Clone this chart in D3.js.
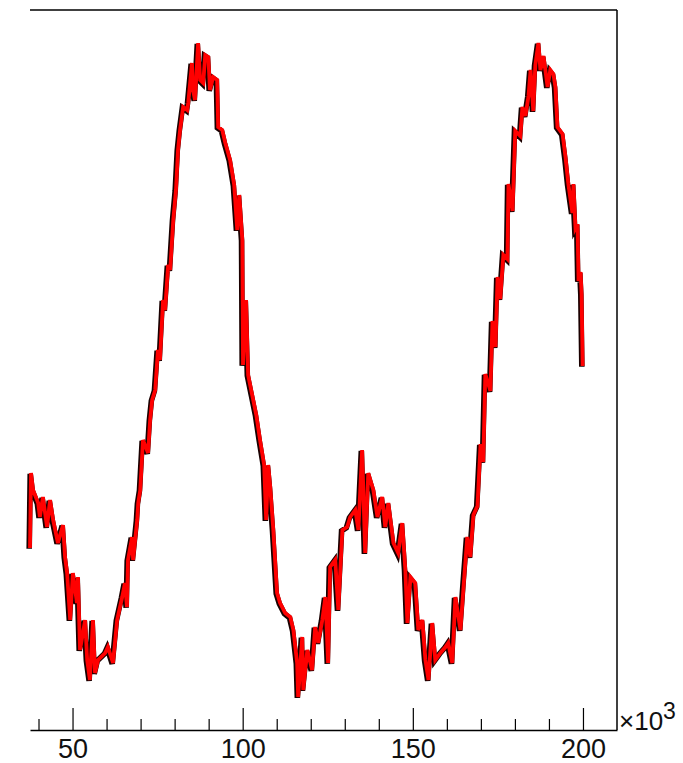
<!DOCTYPE html>
<html lang="en">
  <head>
    <meta charset="UTF-8" />
    <title>Signal</title>
    <style>
      body { margin: 0; background: #fff; }
      text { font-family: "Liberation Sans", Arial, sans-serif; }
    </style>
  </head>
  <body>
    <svg id="container" width="683" height="763">
      <g id="lines"></g>
      <g id="minorAxis"></g>
      <g id="xAxis"></g>
      <g id="frame"></g>
    </svg>
  </body>
  <script src="https://cdn.jsdelivr.net/npm/d3@7"></script>
  <script>
    // x in units of 10^3, y in arbitrary counts
    const xValues = [
      37.5, 37.8, 38.4, 39.9, 40.4, 41.3, 42.5, 43.4, 44.3, 45.7, 47.2, 47.8, 48.4, 49.3, 50.1, 51.3, 51.6, 52.2, 53.7, 54.3,
      55.1, 56.0, 56.6, 57.5, 59.6, 60.4, 61.9, 63.1, 64.6, 65.4, 66.0, 66.3, 67.5, 67.8, 69.0, 69.3, 69.9, 70.7, 72.2, 72.8,
      73.4, 74.3, 75.1, 75.7, 76.6, 77.2, 78.1, 78.7, 79.6, 80.4, 81.0, 81.6, 82.5, 83.7, 84.0, 85.1, 85.4, 86.0, 86.9, 87.5,
      88.4, 89.0, 89.9, 90.4, 91.3, 92.5, 92.8, 94.0, 94.9,
      96.3, 97.5, 98.4, 99.0, 99.9, 100.1, 101.0, 101.6, 102.8, 104.0, 105.1, 106.3, 106.9, 107.5, 108.1, 109.0, 110.1, 111.0,
      112.5, 114.0, 114.9, 116.0, 116.3, 117.5, 117.8, 119.0, 120.4, 121.3, 122.2, 123.4, 124.3, 125.1, 125.7, 127.2, 128.1,
      129.3, 130.7, 131.6, 133.1, 134.0, 135.1, 136.0, 136.9, 138.4, 139.6, 141.0, 141.9, 142.8, 144.3, 145.7, 146.9, 147.8,
      148.4, 149.3, 150.7, 151.6, 152.8, 153.7, 154.6, 155.7, 156.6, 158.1, 159.6, 160.4, 161.6, 162.5, 164.0, 164.9, 166.0,
      166.9,
      167.8, 169.0, 169.9, 170.7, 171.3, 172.8, 173.4, 174.3, 174.9, 175.7, 176.6, 177.8, 178.1, 179.3, 180.1, 181.6, 182.2,
      183.1, 184.0, 184.6, 185.4, 186.0, 186.9, 187.5, 188.4, 189.6, 190.4, 191.3, 191.9, 192.5, 194.0, 194.9, 195.7, 196.9,
      197.2, 197.8, 198.4, 198.7, 199.3, 199.6, 199.9
    ];
    const yValues = [
      182, 257, 240, 227, 213, 233, 203, 230, 210, 187, 205, 173, 157, 110, 157, 127, 153, 80, 110, 70,
      50, 110, 57, 70, 77, 83, 67, 110, 133, 147, 123, 170, 193, 170, 210, 227, 240, 290, 277, 310,
      330, 340, 380, 370, 430, 420, 465, 460, 510, 540, 580, 600, 623, 620, 627, 667, 640, 630, 687, 650,
      647, 675, 673, 640, 653, 650, 603, 600, 587,
      570, 545, 500, 535, 490, 365, 430, 355, 335, 315, 290, 265, 210, 265, 243, 200, 137, 127,
      117, 113, 100, 67, 33, 93, 40, 80, 60, 103, 87, 110, 133, 67, 163, 170, 120,
      200, 203, 213, 220, 200, 280, 177, 257, 240, 213, 233, 203, 227, 187, 177, 207, 160,
      107, 153, 147, 100, 110, 70, 50, 107, 70, 77, 83, 87, 67, 133, 100, 143, 193,
      173,
      215, 224, 286, 268, 356, 339, 409, 383, 453, 431, 475, 471, 546, 519, 599, 594, 623,
      614, 634, 660, 619, 665, 687, 660, 674, 643, 660, 656, 643, 603, 596, 572, 546, 517,
      546, 502, 506, 449, 458, 436, 364
    ];
    const majorTicks = [50, 100, 150, 200];
    const minorTicks = [40, 60, 70, 80, 90, 110, 120, 130, 140, 160, 170, 180, 190];

    let svg = d3.select("#container");
    let frameLeft = 30, frameRight = 617, frameTop = 10, frameBottom = 730;

    let x = d3.scaleLinear().domain([37.5, 210]).range([frameLeft, frameRight]);
    let y = d3.scaleLinear().domain([0, 720]).range([frameBottom, frameTop]);

    let points = xValues.map((d, i) => [d, yValues[i]]);
    let line = d3.line().x((d) => x(d[0])).y((d) => y(d[1]));

    // dark edge under the red trace
    d3.select("#lines")
      .append("path")
      .datum(points)
      .attr("d", line)
      .attr("fill", "none")
      .attr("stroke", "#1a0000")
      .attr("stroke-width", 5.6)
      .attr("transform", "translate(-0.8,0.8)");
    d3.select("#lines")
      .append("path")
      .datum(points)
      .attr("d", line)
      .attr("fill", "none")
      .attr("stroke", "#ff0000")
      .attr("stroke-width", 3.8);

    // axes: ticks point inward (up)
    let minorAxis = d3.axisBottom(x).tickValues(minorTicks).tickSize(-11).tickSizeOuter(0).tickFormat("");
    d3.select("#minorAxis").attr("transform", `translate(0,${frameBottom})`).call(minorAxis);
    let xAxis = d3.axisBottom(x).tickValues(majorTicks).tickSize(-22).tickSizeOuter(0).tickPadding(9);
    d3.select("#xAxis").attr("transform", `translate(0,${frameBottom})`).call(xAxis);
    d3.select("#minorAxis .domain").remove();
    svg.selectAll(".tick line").attr("stroke", "#000").attr("stroke-width", 1.2);
    svg.select("#xAxis .domain").attr("stroke", "#000").attr("stroke-width", 1.5);
    svg.selectAll("#xAxis .tick text")
      .attr("font-size", 27)
      .attr("fill", "#111")
      .attr("font-family", "Liberation Sans, Arial, sans-serif");

    // frame
    let frame = d3.select("#frame");
    frame.append("line").attr("x1", frameLeft).attr("x2", frameRight).attr("y1", frameTop).attr("y2", frameTop)
      .attr("stroke", "#000").attr("stroke-width", 1.5);
    frame.append("line").attr("x1", frameRight).attr("x2", frameRight).attr("y1", frameTop).attr("y2", frameBottom)
      .attr("stroke", "#000").attr("stroke-width", 1.5);

    // exponent label
    let expo = svg.append("text").attr("x", frameRight + 2).attr("y", frameBottom).attr("font-size", 26).attr("fill", "#111");
    expo.append("tspan").text("×10");
    expo.append("tspan").attr("font-size", 23).attr("dy", -11).text("3");
  </script>
</html>
